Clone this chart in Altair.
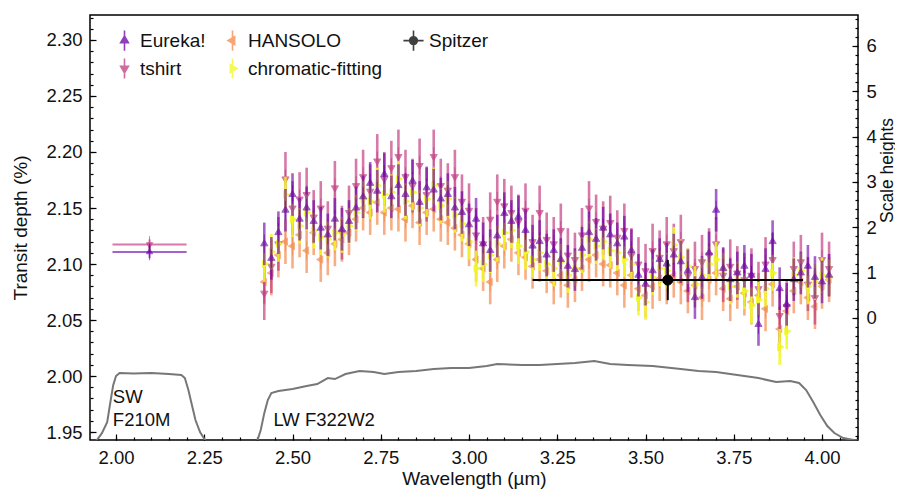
import altair as alt
import pandas as pd

FONT = "Liberation Sans"

# ---------------- data ----------------
WAVE = [2.42, 2.44, 2.46, 2.48, 2.50, 2.52, 2.54, 2.56, 2.58, 2.60,
        2.62, 2.64, 2.66, 2.68, 2.70, 2.72, 2.74, 2.76, 2.78, 2.80,
        2.82, 2.84, 2.86, 2.88, 2.90, 2.92, 2.94, 2.96, 2.98, 3.00,
        3.02, 3.04, 3.06, 3.08, 3.10, 3.12, 3.14, 3.16, 3.18, 3.20,
        3.22, 3.24, 3.26, 3.28, 3.30, 3.32, 3.34, 3.36, 3.38, 3.40,
        3.42, 3.44, 3.46, 3.48, 3.50, 3.52, 3.54, 3.56, 3.58, 3.60,
        3.62, 3.64, 3.66, 3.68, 3.70, 3.72, 3.74, 3.76, 3.78, 3.80,
        3.82, 3.84, 3.86, 3.88, 3.90, 3.92, 3.94, 3.96, 3.98, 4.00, 4.02]

EUREKA = [2.118, 2.105, 2.128, 2.148, 2.162, 2.140, 2.150, 2.138, 2.132, 2.126,
          2.140, 2.131, 2.138, 2.150, 2.160, 2.172, 2.165, 2.180, 2.160, 2.170,
          2.162, 2.174, 2.155, 2.168, 2.166, 2.158, 2.162, 2.150, 2.146, 2.135,
          2.140, 2.118, 2.112, 2.125, 2.145, 2.138, 2.142, 2.130, 2.116, 2.120,
          2.108, 2.112, 2.104, 2.098, 2.095, 2.114, 2.128, 2.122, 2.132, 2.126,
          2.118, 2.124, 2.112, 2.090, 2.082, 2.094, 2.104, 2.100, 2.108, 2.102,
          2.094, 2.070, 2.088, 2.110, 2.148, 2.096, 2.086, 2.092, 2.098, 2.090,
          2.046, 2.095, 2.120, 2.078, 2.064, 2.086, 2.092, 2.098, 2.088, 2.084, 2.090]

TSHIRT = [2.074, 2.098, 2.118, 2.176, 2.150, 2.158, 2.162, 2.142, 2.150, 2.132,
          2.168, 2.128, 2.146, 2.170, 2.178, 2.165, 2.192, 2.176, 2.186, 2.196,
          2.178, 2.170, 2.188, 2.162, 2.196, 2.170, 2.166, 2.178, 2.156, 2.148,
          2.126, 2.118, 2.140, 2.156, 2.152, 2.146, 2.138, 2.148, 2.120, 2.146,
          2.122, 2.118, 2.130, 2.108, 2.104, 2.126, 2.150, 2.138, 2.132, 2.137,
          2.124, 2.130, 2.108, 2.100, 2.094, 2.112, 2.106, 2.118, 2.112, 2.120,
          2.090, 2.096, 2.102, 2.108, 2.118, 2.090, 2.098, 2.092, 2.086, 2.090,
          2.078, 2.100, 2.104, 2.054, 2.062, 2.096, 2.102, 2.082, 2.070, 2.104, 2.096]

HANSOLO = [2.084, 2.092, 2.108, 2.120, 2.116, 2.126, 2.112, 2.128, 2.104, 2.110,
           2.118, 2.122, 2.128, 2.140, 2.150, 2.146, 2.155, 2.146, 2.150, 2.149,
           2.140, 2.152, 2.137, 2.146, 2.149, 2.140, 2.137, 2.132, 2.126, 2.118,
           2.104, 2.096, 2.084, 2.104, 2.116, 2.122, 2.110, 2.106, 2.098, 2.104,
           2.094, 2.084, 2.090, 2.081, 2.086, 2.096, 2.104, 2.108, 2.100, 2.099,
           2.092, 2.081, 2.090, 2.078, 2.072, 2.080, 2.087, 2.084, 2.090, 2.084,
           2.076, 2.081, 2.070, 2.086, 2.092, 2.078, 2.069, 2.080, 2.074, 2.066,
           2.072, 2.060, 2.082, 2.042, 2.058, 2.076, 2.084, 2.070, 2.062, 2.080, 2.086]

CHROMATIC = [2.100, 2.111, 2.118, 2.162, 2.140, 2.134, 2.146, 2.130, 2.124, 2.122,
             2.128, 2.126, 2.134, 2.146, 2.158, 2.156, 2.170, 2.162, 2.164, 2.176,
             2.156, 2.164, 2.150, 2.158, 2.170, 2.152, 2.158, 2.144, 2.136, 2.120,
             2.096, 2.100, 2.108, 2.118, 2.128, 2.130, 2.116, 2.111, 2.104, 2.110,
             2.100, 2.096, 2.102, 2.090, 2.096, 2.108, 2.122, 2.116, 2.120, 2.112,
             2.110, 2.104, 2.100, 2.070, 2.066, 2.088, 2.096, 2.094, 2.117, 2.106,
             2.098, 2.082, 2.090, 2.100, 2.104, 2.094, 2.080, 2.086, 2.076, 2.063,
             2.068, 2.078, 2.092, 2.026, 2.040, 2.090, 2.094, 2.080, 2.084, 2.090, 2.088]

ERRORS = {"Eureka!": 0.019, "tshirt": 0.024, "HANSOLO": 0.020, "chromatic-fitting": 0.016}

# SW (F210M) broadband points
SW_SERIES = ["tshirt", "Eureka!"]
SW_WAVE = [2.095, 2.095]
SW_HALFWIDTH = [0.105, 0.105]
SW_DEPTH = [2.1175, 2.1107]
SW_ERR = [0.0045, 0.0055]

# Spitzer point
SPITZER_WAVE = [3.563]
SPITZER_HALFWIDTH = [0.383]
SPITZER_DEPTH = [2.0857]
SPITZER_ERR = [0.018]

# filter throughput curves (drawn in transit-depth units)
SW_THR_WAVE = [1.930, 1.946, 1.960, 1.975, 1.985, 1.992, 2.000, 2.010, 2.050, 2.100,
               2.150, 2.185, 2.195, 2.205, 2.215, 2.225, 2.238, 2.252, 2.265]
SW_THR = [1.938, 1.9429, 1.949, 1.9589, 1.9786, 1.9919, 2.000, 2.0027, 2.0022, 2.0027,
          2.0018, 2.0009, 1.9982, 1.9875, 1.9741, 1.9607, 1.950, 1.9429, 1.938]
LW_THR_WAVE = [2.400, 2.410, 2.420, 2.430, 2.440, 2.460, 2.500, 2.540, 2.570, 2.600,
               2.620, 2.650, 2.690, 2.730, 2.760, 2.800, 2.850, 2.900, 2.950, 3.000,
               3.050, 3.080, 3.150, 3.200, 3.250, 3.300, 3.355, 3.400, 3.450, 3.520,
               3.600, 3.650, 3.700, 3.760, 3.820, 3.870, 3.910, 3.935, 3.955, 3.975,
               3.995, 4.015, 4.035, 4.060, 4.090, 4.110]
LW_THR = [1.942, 1.9518, 1.9669, 1.9786, 1.9848, 1.9866, 1.9884, 1.9911, 1.9928, 1.9982,
          1.9973, 2.0018, 2.0045, 2.0036, 2.0018, 2.0036, 2.0045, 2.0062, 2.0071, 2.0071,
          2.0089, 2.0107, 2.0098, 2.0098, 2.0107, 2.0116, 2.0134, 2.0107, 2.0098, 2.0089,
          2.0062, 2.0045, 2.0036, 2.0009, 1.9982, 1.9946, 1.9955, 1.9938, 1.9875, 1.9768,
          1.9652, 1.9554, 1.9491, 1.9446, 1.9429, 1.942]

LABEL_TEXT = ["SW", "F210M", "LW F322W2"]
LABEL_WAVE = [1.991, 1.991, 2.446]
LABEL_DEPTH = [1.9815, 1.9610, 1.9610]

# axes
X_DOMAIN = [1.9263, 4.1019]
Y_DOMAIN = [1.9429, 2.3223]
SH_DOMAIN = [-2.69, 6.68]
XMAJ = [2.00, 2.25, 2.50, 2.75, 3.00, 3.25, 3.50, 3.75, 4.00]
XMIN = [round(1.95 + 0.05 * i, 2) for i in range(44)]
YMAJ = [1.95, 2.00, 2.05, 2.10, 2.15, 2.20, 2.25, 2.30]
YMIN = [round(1.95 + 0.01 * i, 2) for i in range(38)]
SHMAJ = [0, 1, 2, 3, 4, 5, 6]
SHMIN = [round(-2.6 + 0.2 * i, 1) for i in range(47)]

# series styling (legend order: column by column)
SERIES_DOMAIN = ["Eureka!", "tshirt", "HANSOLO", "chromatic-fitting", "Spitzer"]
SERIES_COLORS = ["#6a00a8", "#c23b80", "#f48849", "#f0f921", "#000000"]
COLOR_OF = dict(zip(SERIES_DOMAIN, SERIES_COLORS))
UP = "M0,-2.6L0,2.6M-1,0.55L1,0.55L0,-1.15Z"
DOWN = "M0,-2.6L0,2.6M-1,-0.55L1,-0.55L0,1.15Z"
LEFT = "M0,-2.6L0,2.6M0.55,-1L0.55,1L-1.15,0Z"
RIGHT = "M0,-2.6L0,2.6M-0.55,-1L-0.55,1L1.15,0Z"
CIRC = "M-2.6,0L2.6,0M0,-2.6L0,2.6M-1,0A1,1,0,1,0,1,0A1,1,0,1,0,-1,0Z"
SERIES_SHAPES = [UP, DOWN, LEFT, RIGHT, CIRC]
OPACITY = {"Eureka!": 0.62, "tshirt": 0.68, "HANSOLO": 0.68, "chromatic-fitting": 0.85,
           "Spitzer": 1.0}
DRAW_ORDER = ["HANSOLO", "tshirt", "chromatic-fitting", "Eureka!"]

# ---------------- tables ----------------
values = {"Eureka!": EUREKA, "tshirt": TSHIRT, "HANSOLO": HANSOLO, "chromatic-fitting": CHROMATIC}
frames = {}
for s in DRAW_ORDER:
    df = pd.DataFrame({"wave": WAVE, "depth": values[s]})
    df["series"] = s
    df["lo"] = df["depth"] - ERRORS[s]
    df["hi"] = df["depth"] + ERRORS[s]
    frames[s] = df

sw = pd.DataFrame({"series": SW_SERIES, "wave": SW_WAVE, "half": SW_HALFWIDTH,
                   "depth": SW_DEPTH, "err": SW_ERR})
sw["xlo"] = sw["wave"] - sw["half"]
sw["xhi"] = sw["wave"] + sw["half"]
sw["lo"] = sw["depth"] - sw["err"]
sw["hi"] = sw["depth"] + sw["err"]

sp = pd.DataFrame({"wave": SPITZER_WAVE, "half": SPITZER_HALFWIDTH,
                   "depth": SPITZER_DEPTH, "err": SPITZER_ERR})
sp["series"] = "Spitzer"
sp["xlo"] = sp["wave"] - sp["half"]
sp["xhi"] = sp["wave"] + sp["half"]
sp["lo"] = sp["depth"] - sp["err"]
sp["hi"] = sp["depth"] + sp["err"]

thr = pd.concat([
    pd.DataFrame({"wave": SW_THR_WAVE, "depth": SW_THR, "band": "SW"}),
    pd.DataFrame({"wave": LW_THR_WAVE, "depth": LW_THR, "band": "LW"}),
])
labels = pd.DataFrame({"text": LABEL_TEXT, "wave": LABEL_WAVE, "depth": LABEL_DEPTH})
shdf = pd.DataFrame({"sh": SH_DOMAIN})

# ---------------- scales / axes ----------------
xs = alt.Scale(domain=X_DOMAIN, nice=False, zero=False)
ys = alt.Scale(domain=Y_DOMAIN, nice=False, zero=False)
cscale = alt.Scale(domain=SERIES_DOMAIN, range=SERIES_COLORS)
shscale = alt.Scale(domain=SERIES_DOMAIN, range=SERIES_SHAPES)

leg = alt.Legend(title=None, orient="none", legendX=25, legendY=16, columns=3,
                 direction="vertical", columnPadding=17, rowPadding=1,
                 labelFontSize=19, labelFont=FONT, labelColor="#111111",
                 symbolSize=60, symbolStrokeWidth=1.6, labelOffset=6, padding=0,
                 symbolOpacity=0.75)

x_major = alt.Axis(orient="bottom", values=XMAJ, format=".2f", tickSize=6, offset=-6,
                   domain=False, labelPadding=8, title="Wavelength (µm)", titlePadding=3,
                   grid=False, labelFlush=False)
x_minor = alt.Axis(orient="bottom", values=XMIN, labels=False, tickSize=3, offset=-3,
                   domain=False, title=None, grid=False)
y_major = alt.Axis(orient="left", values=YMAJ, format=".2f", tickSize=6, offset=-6,
                   domain=False, labelPadding=8, title="Transit depth (%)", titlePadding=15,
                   grid=False)
y_minor = alt.Axis(orient="left", values=YMIN, labels=False, tickSize=3, offset=-3,
                   domain=False, title=None, grid=False)

# ---------------- layers ----------------
thr_major = alt.Chart(thr).mark_line(color="#777777", strokeWidth=2, clip=True).encode(
    x=alt.X("wave:Q", scale=xs, axis=x_major),
    y=alt.Y("depth:Q", scale=ys, axis=y_major),
    detail="band:N",
)
thr_minor = alt.Chart(thr).mark_line(opacity=0, clip=True).encode(
    x=alt.X("wave:Q", scale=xs, axis=x_minor),
    y=alt.Y("depth:Q", scale=ys, axis=y_minor),
    detail="band:N",
)

layers = [thr_major, thr_minor]


def point_layer(data, size, opacity):
    return alt.Chart(data).mark_point(filled=True, size=size, strokeWidth=1,
                                      opacity=opacity).encode(
        x=alt.X("wave:Q", scale=xs, axis=None),
        y=alt.Y("depth:Q", scale=ys, axis=None),
        fill=alt.Fill("series:N", scale=cscale, legend=leg),
        stroke=alt.Stroke("series:N", scale=cscale, legend=leg),
        shape=alt.Shape("series:N", scale=shscale, legend=leg),
    )


def vbar_layer(data, color, width, opacity):
    return alt.Chart(data).mark_rule(color=color, strokeWidth=width, opacity=opacity).encode(
        x=alt.X("wave:Q", scale=xs, axis=None),
        y=alt.Y("lo:Q", scale=ys, axis=None),
        y2="hi:Q",
    )


def hbar_layer(data, color, width, opacity):
    return alt.Chart(data).mark_rule(color=color, strokeWidth=width, opacity=opacity).encode(
        x=alt.X("xlo:Q", scale=xs, axis=None),
        x2="xhi:Q",
        y=alt.Y("depth:Q", scale=ys, axis=None),
    )


for s in DRAW_ORDER:
    layers.append(vbar_layer(frames[s], COLOR_OF[s], 2.6, OPACITY[s]))
    layers.append(point_layer(frames[s], 52, OPACITY[s]))

for s in SW_SERIES:
    d = sw[sw["series"] == s]
    layers.append(hbar_layer(d, COLOR_OF[s], 2, OPACITY[s]))
    layers.append(vbar_layer(d, COLOR_OF[s], 2, OPACITY[s]))
    layers.append(point_layer(d, 40, OPACITY[s]))

layers.append(hbar_layer(sp, "#000000", 2, 1))
layers.append(vbar_layer(sp, "#000000", 2, 1))
layers.append(point_layer(sp, 100, 1))

layers.append(
    alt.Chart(labels).mark_text(align="left", baseline="middle", fontSize=18.5, font=FONT,
                                color="#111111").encode(
        x=alt.X("wave:Q", scale=xs, axis=None),
        y=alt.Y("depth:Q", scale=ys, axis=None),
        text="text:N",
    )
)

main = alt.layer(*layers).resolve_axis(x="independent", y="independent")

shs = alt.Scale(domain=SH_DOMAIN, nice=False, zero=False)
right_major = alt.Chart(shdf).mark_point(opacity=0).encode(
    y=alt.Y("sh:Q", scale=shs,
            axis=alt.Axis(orient="right", values=SHMAJ, format="d", tickSize=6, offset=-6,
                          domain=False, labelPadding=8, title="Scale heights",
                          titleAngle=270, titleX=35, titleY=155, titleBaseline="middle",
                          titleAlign="center", titleFontSize=17.5, grid=False)),
)
right_minor = alt.Chart(shdf).mark_point(opacity=0).encode(
    y=alt.Y("sh:Q", scale=shs,
            axis=alt.Axis(orient="right", values=SHMIN, labels=False, tickSize=3, offset=-3,
                          domain=False, title=None, grid=False)),
)
right = alt.layer(right_major, right_minor).resolve_axis(y="independent")

chart = alt.layer(main, right).resolve_scale(y="independent").properties(
    width=768, height=425,
    padding={"left": 82, "top": 7, "right": 37, "bottom": 49},
    autosize=alt.AutoSizeParams(type="none"),
    background="white",
).configure_axis(
    labelFont=FONT, titleFont=FONT, labelFontSize=18.5, titleFontSize=19,
    labelColor="#111111", titleColor="#111111", titleFontWeight="normal",
    tickColor="#000000", tickWidth=1.2,
).configure_view(stroke="#000000", strokeWidth=1.5)

chart.save("out.html", embed_options={"renderer": "svg", "actions": False})
